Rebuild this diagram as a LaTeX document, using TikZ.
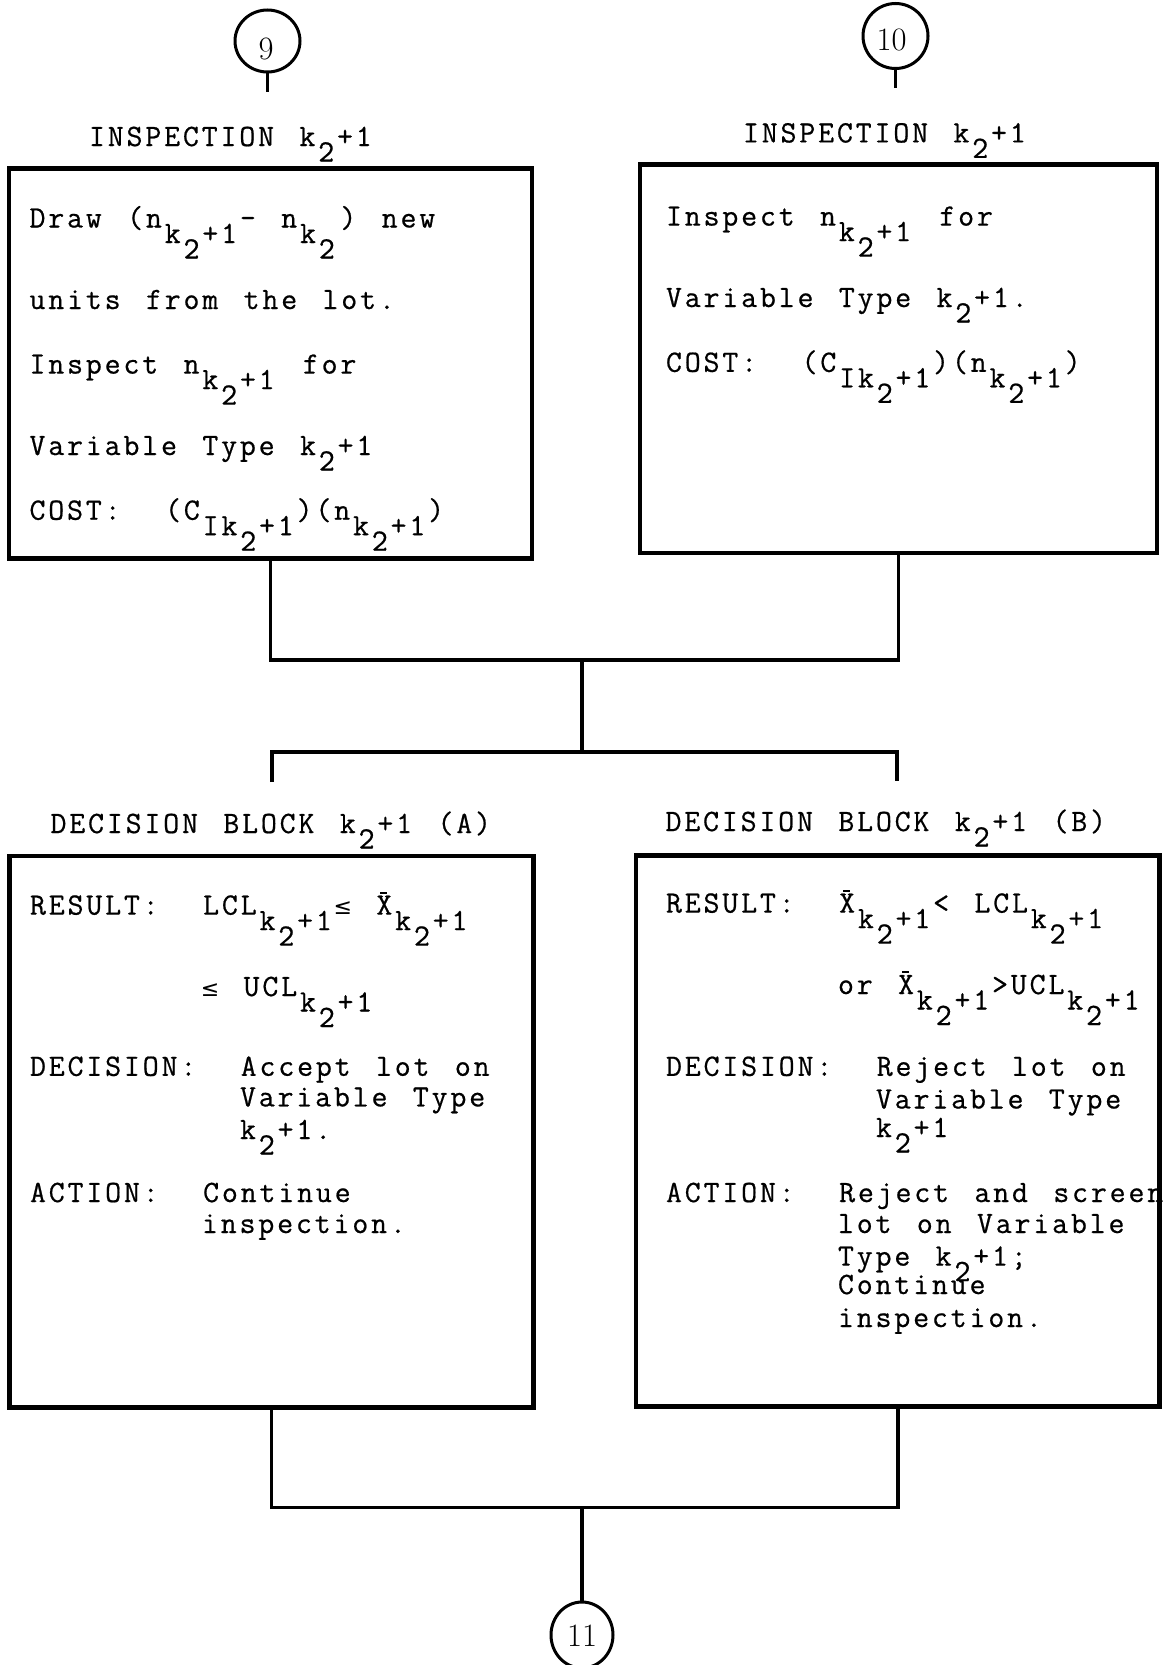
\documentclass[tikz,border=0pt]{standalone}
\usepackage{fontspec}
\setmonofont{Latin Modern Mono}[LetterSpace=9.13,WordSpace=1.3475,FakeBold=0.6]
\newfontfamily\symfont{DejaVu Sans}
\usetikzlibrary{shapes.geometric}

% typewriter text: one cell is \advw wide, letter spacing is \lsp
\newcommand\typew{\ttfamily\fontsize{31}{32}\selectfont}
\newlength\advw
\setlength\advw{19.1pt}
\newlength\lsp
\setlength\lsp{2.83pt}
% half-line drop for subscripts (keeps the cell spacing at run ends)
\newcommand\dn[1]{\kern\lsp\raisebox{-15.5pt}{#1\kern\lsp}}
\newcommand\kp{k\dn{2}+1}
\newcommand\twosp{ \hspace{\advw}}
\newcommand\xb{\makebox[0pt][l]{\hspace{4pt}\rule[21pt]{7pt}{1.6pt}}X}
\newcommand\lesym{\makebox[16.3pt][c]{\symfont\fontsize{22}{22}\selectfont ≤}}

\tikzset{
  box/.style={draw, rectangle, line width=4.5pt, inner sep=0pt, outer sep=0pt},
  tx/.style={anchor=base west, inner sep=0pt, outer sep=0pt, font=\typew},
  conn/.style={line width=3.8pt},
  ring/.style={draw, ellipse, line width=3pt, inner sep=0pt, outer sep=0pt},
  num/.style={inner sep=0pt, font=\fontsize{32.6}{33}\selectfont},
}

\begin{document}
\begin{tikzpicture}[x=1pt,y=-1pt]
\fill[white] (0,0) rectangle (1172,1665);
\useasboundingbox (0,0) rectangle (1172,1665);

% entry connectors
\node[ring, minimum width=65pt, minimum height=62pt] (c9) at (267.5,41) {};
\node[num] (n9) at (266,49) {9};
\node[ring, minimum width=65pt, minimum height=65pt] (c10) at (895.5,36) {};
\node[num] (n10) at (891.5,40) {10};
\coordinate (s9) at (267.5,92);
\coordinate (s10) at (895.5,88);
\draw[conn] (c9.south) -- (s9);
\draw[conn] (c10.south) -- (s10);

% inspection headings
\node[tx] (h1) at (89,146) {INSPECTION \kp};
\node[tx] (h2) at (743,142.4) {INSPECTION \kp};

% left inspection block
\node[tx] (l11) at (29.5,227.5) {Draw (n\dn{\kp}- n\dn{k\dn{2}}) new};
\node[tx] (l12) at (29.5,309) {units from the lot.};
\node[tx] (l13) at (29.5,373.6) {Inspect n\dn{\kp} for};
\node[tx] (l14) at (29.5,455) {Variable Type \kp};
\node[tx] (l15) at (29.5,519.7) {COST:\twosp(C\dn{I\kp})(n\dn{\kp})};

% right inspection block
\node[tx] (l21) at (666,225.6) {Inspect n\dn{\kp} for};
\node[tx] (l22) at (666,307) {Variable Type \kp.};
\node[tx] (l23) at (666,371.8) {COST:\twosp(C\dn{I\kp})(n\dn{\kp})};

\node[box, minimum width=523pt, minimum height=390pt] (b1) at (270.5,363.5) {};
\node[box, minimum width=517pt, minimum height=388.5pt] (b2) at (898.5,358.75) {};

% decision headings
\node[tx] (h3) at (50.5,833) {DECISION BLOCK \kp{} (A)};
\node[tx] (h4) at (665.5,831) {DECISION BLOCK \kp{} (B)};

% decision block A
\node[tx] (a1) at (30,914.6) {RESULT:\twosp LCL\dn{\kp}\lesym{} \xb\dn{\kp}};
\node[tx] (a2) at (202,996) {\lesym{} UCL\dn{\kp}};
\node[tx] (a3) at (30,1075.8) {DECISION:\twosp Accept lot on};
\node[tx] (a4) at (240,1106.4) {Variable Type};
\node[tx] (a5) at (240,1139) {\kp.};
\node[tx] (a6) at (30,1202) {ACTION:\twosp Continue};
\node[tx] (a7) at (202,1233) {inspection.};

% decision block B
\node[tx] (bb1) at (666,912.6) {RESULT:\twosp\xb\dn{\kp}< LCL\dn{\kp}};
\node[tx] (bb2) at (838,994) {or \xb\dn{\kp}>UCL\dn{\kp}};
\node[tx] (bb3) at (666,1075.8) {DECISION:\twosp Reject lot on};
\node[tx] (bb4) at (876,1108.5) {Variable Type};
\node[tx] (bb5) at (876,1137) {\kp};
\node[tx] (bb6) at (666,1202) {ACTION:\twosp Reject and screen};
\node[tx] (bb7) at (838,1233) {lot on Variable};
\node[tx] (bb8) at (838,1265.6) {Type \kp;};
\node[tx] (bb9) at (838,1294) {Continue};
\node[tx] (bb10) at (838,1327) {inspection.};

\node[box, minimum width=524pt, minimum height=551.5pt] (bA) at (271.5,1131.75) {};
\node[box, minimum width=523.5pt, minimum height=551pt] (bB) at (897.75,1131) {};

% joining lines
\coordinate (j1) at (582,660);
\coordinate (j2) at (582,752);
\coordinate (tA) at (272,782);
\coordinate (tB) at (897,781);
\coordinate (j3) at (582,1507.5);
\draw[conn] (b1.south) |- (j1) -| (b2.south);
\draw[conn] (j1) -- (j2);
\draw[conn] (tA) |- (j2) -| (tB);
\draw[conn] (bA.south) |- (j3) -| (bB.south);

% exit connector
\node[ring, minimum width=62pt, minimum height=66pt] (c11) at (582,1635) {};
\node[num] (n11) at (582,1636) {11};
\draw[conn] (j3) -- (c11.north);
\end{tikzpicture}
\end{document}
